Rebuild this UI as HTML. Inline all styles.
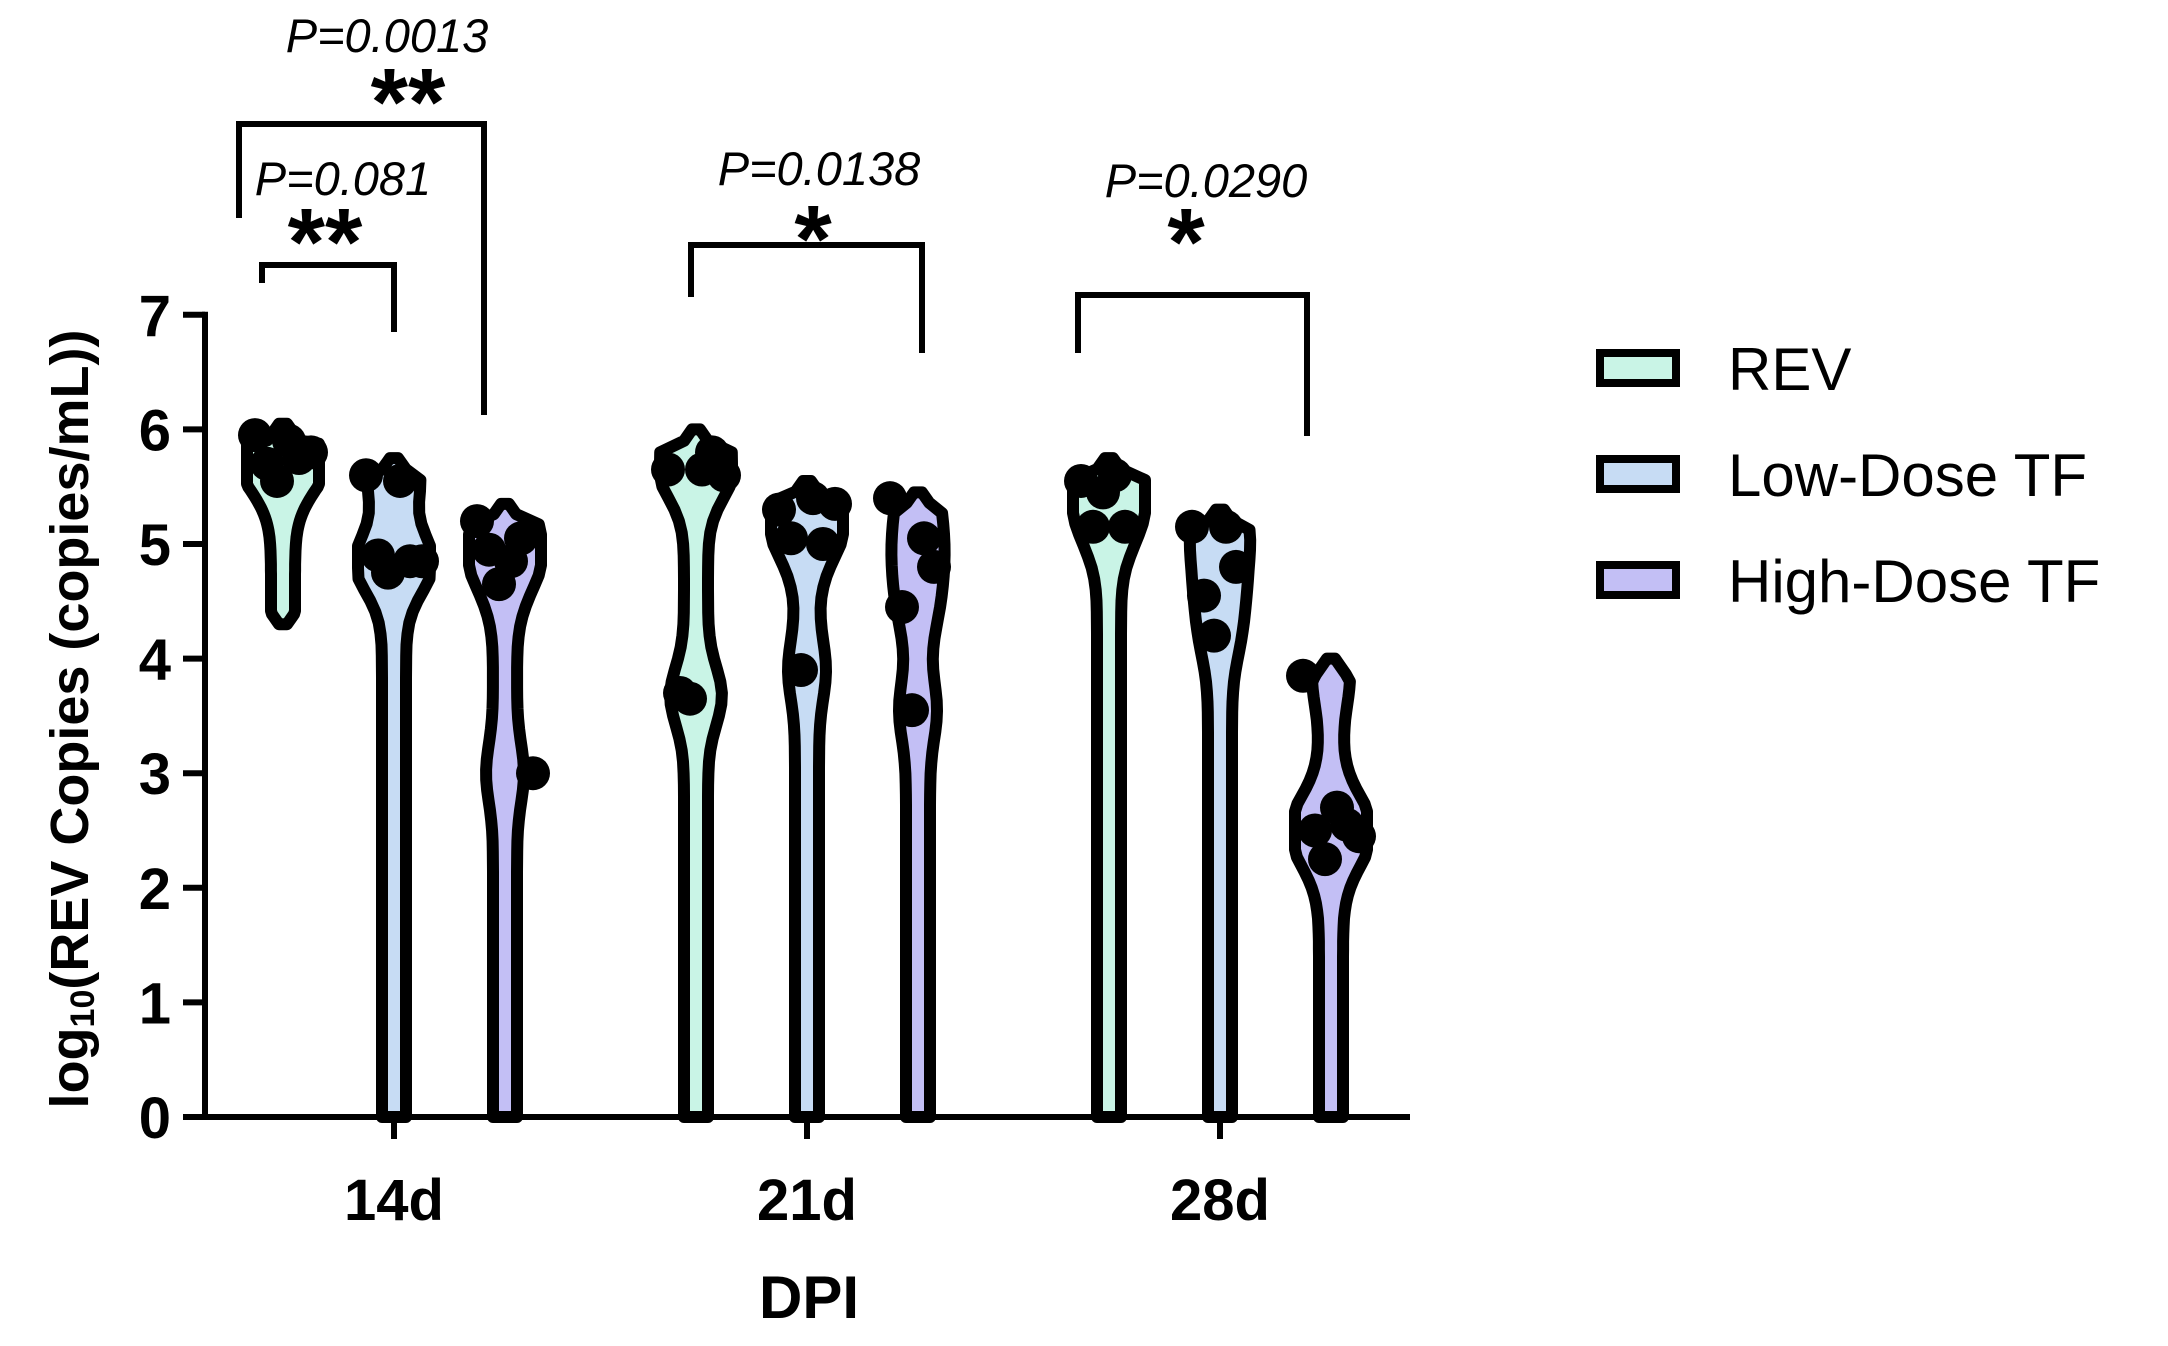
<!DOCTYPE html>
<html><head><meta charset="utf-8"><style>
html,body{margin:0;padding:0;background:#fff;}
svg{display:block;font-family:"Liberation Sans",sans-serif;}
</style></head><body>
<svg id="chart" width="2168" height="1346" viewBox="0 0 2168 1346" xmlns="http://www.w3.org/2000/svg">
<g id="plot"></g>
<g id="axes"></g>
<g id="annot"></g>
<g id="legend"></g>
</svg>
<script>
const categories = ["14d","21d","28d"];
const seriesNames = ["REV","Low-Dose TF","High-Dose TF"];
const seriesColors = ["#c9f4e6","#c7dcf4","#c3bff5"];
const yTicks = [0,1,2,3,4,5,6,7];
const pts14 = [[5.95,5.9,5.75,5.7,5.55,5.8],[5.6,5.55,4.85,4.9,4.75,4.85],[5.2,4.85,5.05,4.95,4.65,3.0]];
const pts21 = [[5.65,5.65,5.8,3.7,3.65,5.6],[5.3,5.4,5.0,5.05,3.9,5.35],[5.4,5.05,4.8,4.45,3.55]];
const pts28 = [[5.55,5.6,5.15,5.15,5.45],[5.15,5.15,4.8,4.55,4.2],[3.85,2.7,2.55,2.5,2.25,2.45]];
const rangeMin14 = [4.3,0,0], rangeMax14 = [6.05,5.75,5.35];
const rangeMin21 = [0,0,0], rangeMax21 = [6.0,5.55,5.45];
const rangeMin28 = [0,0,0], rangeMax28 = [5.75,5.3,4.0];
const pLabels = ["P=0.081","P=0.0013","P=0.0138","P=0.0290"];
const starLabels = ["**","**","*","*"];

const allPts=[pts14,pts21,pts28], mins=[rangeMin14,rangeMin21,rangeMin28], maxs=[rangeMax14,rangeMax21,rangeMax28];
const NS="http://www.w3.org/2000/svg";
function mk(tag,attrs,parent,text){const e=document.createElementNS(NS,tag);for(const k in attrs)e.setAttribute(k,attrs[k]);if(text!==undefined)e.textContent=text;parent.appendChild(e);return e;}
const x0=205,x1=1410,yBase=1117,yUnit=114.6;
const y=v=>yBase-v*yUnit;
const catX=i=>394+i*413;
const violinX=(c,s)=>catX(c)+(s-1)*111;
const plot=document.getElementById('plot'),axes=document.getElementById('axes'),annot=document.getElementById('annot'),legend=document.getElementById('legend');

categories.forEach((cat,c)=>{
  seriesNames.forEach((sn,s)=>{
    const data=allPts[c][s],lo=mins[c][s],hi=maxs[c][s],cx=violinX(c,s);
    const steps=60,right=[];
    for(let i=0;i<=steps;i++){
      const v=lo+(hi-lo)*i/steps;let d=0;
      data.forEach(p=>{d+=Math.exp(-Math.pow((v-p)/0.25,2)/2);});
      let w=12+7*d;
      const tEnd=Math.min((v-lo),(hi-v));
      if(tEnd<0.15) w=Math.min(w,4+tEnd*80);
      if(lo===0&&v<0.15) w=12+7*d;
      right.push([cx+Math.min(w,36),y(v)]);
    }
    let dstr="M"+right.map(p=>p[0].toFixed(1)+","+p[1].toFixed(1)).join(" L");
    for(let i=right.length-1;i>=0;i--) dstr+=" L"+(2*cx-right[i][0]).toFixed(1)+","+right[i][1].toFixed(1);
    dstr+=" Z";
    const p=mk('path',{d:dstr,fill:seriesColors[s],stroke:'#000','stroke-width':12,'stroke-linejoin':'round'},plot);
    
    
    data.forEach((v,k)=>{
      const dx=((k%3)-1)*22+(k%2?6:-6);
      const dot=mk('circle',{cx:cx+dx,cy:y(v),r:17,fill:'#000'},plot);
      
      
    });
  });
});
mk('line',{x1:x0,y1:y(7)-3,x2:x0,y2:yBase,stroke:'#000','stroke-width':6},axes);
mk('line',{x1:x0-3,y1:yBase,x2:x1,y2:yBase,stroke:'#000','stroke-width':6},axes);
yTicks.forEach(t=>{
  mk('line',{x1:x0-22,y1:y(t),x2:x0,y2:y(t),stroke:'#000','stroke-width':6},axes);
  const tl=mk('text',{x:x0-34,y:y(t)+21,'text-anchor':'end','font-size':58,'font-weight':'bold'},axes,t);
  
  
});
categories.forEach((cat,c)=>{
  mk('line',{x1:catX(c),y1:yBase,x2:catX(c),y2:yBase+22,stroke:'#000','stroke-width':6},axes);
  const tl=mk('text',{x:catX(c),y:1220,'text-anchor':'middle','font-size':58,'font-weight':'bold'},axes,cat);
  
  
});
const xt=mk('text',{x:809,y:1318,'text-anchor':'middle','font-size':60,'font-weight':'bold'},axes,'DPI');

const yt=mk('text',{x:0,y:0,transform:'translate(88,719) rotate(-90)','text-anchor':'middle','font-size':54,'font-weight':'bold'},axes);

yt.innerHTML='log<tspan font-size="34" dy="6">10</tspan><tspan dy="-6">(REV Copies (copies/mL))</tspan>';
const brackets=[
 {xa:262,xb:394,top:265,la:283,lb:332,sx:325,sy:275,px:343,py:195},
 {xa:239,xb:484,top:124,la:218,lb:415,sx:408,sy:135,px:387,py:52},
 {xa:691,xb:922,top:245,la:297,lb:353,sx:813,sy:272,px:819,py:185},
 {xa:1078,xb:1307,top:295,la:353,lb:436,sx:1186,sy:275,px:1206,py:197}
];
brackets.forEach((b,i)=>{
  const pl=mk('polyline',{points:`${b.xa},${b.la} ${b.xa},${b.top} ${b.xb},${b.top} ${b.xb},${b.lb}`,fill:'none',stroke:'#000','stroke-width':6},annot);
  
  const st=mk('text',{x:b.sx,y:b.sy,'text-anchor':'middle','font-size':96,'font-weight':'bold'},annot,starLabels[i]);
  
  const pt=mk('text',{x:b.px,y:b.py,'text-anchor':'middle','font-size':47,'font-style':'italic'},annot,pLabels[i]);
  
});
seriesNames.forEach((n,s)=>{
  const yy=353+s*106;
  const r=mk('rect',{x:1600,y:yy,width:76,height:30,fill:seriesColors[s],stroke:'#000','stroke-width':8},legend);
  
  const t=mk('text',{x:1728,y:yy+37,'font-size':60},legend,n);
  
});
</script>
</body></html>
